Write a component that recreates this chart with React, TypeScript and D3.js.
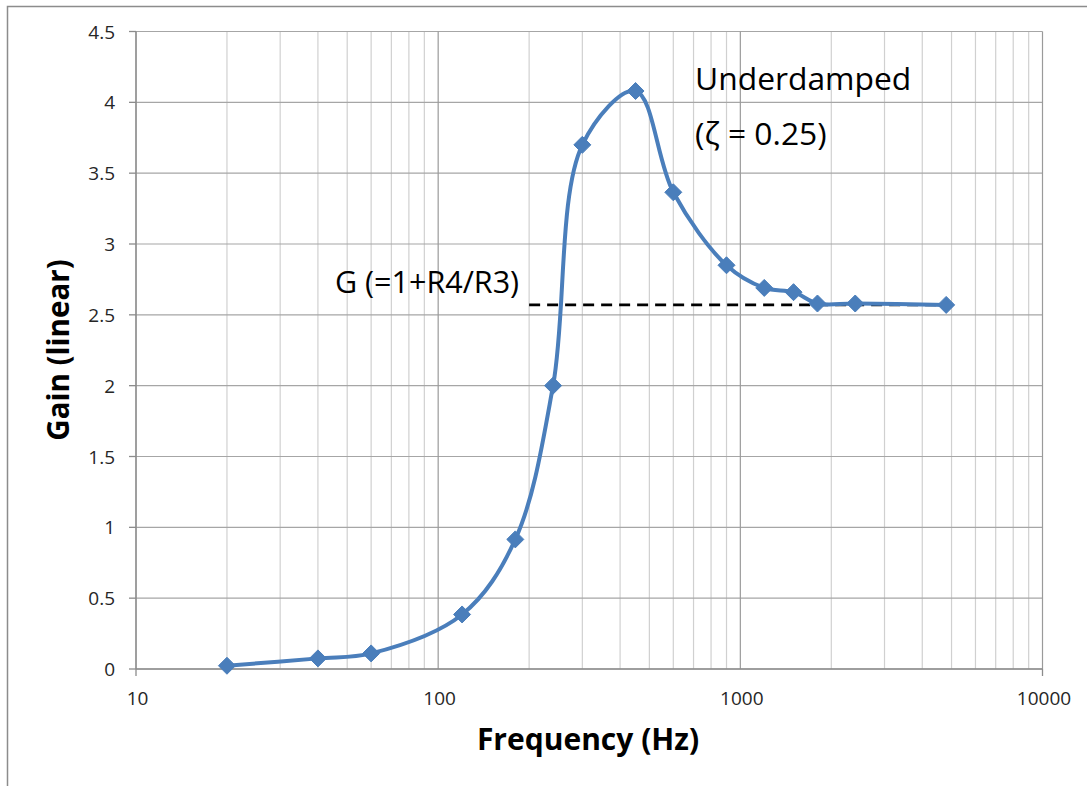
import React from "react";
import * as d3 from "d3";

const freqHz = [20, 40, 60, 120, 180, 240, 300, 450, 600, 900, 1200, 1500, 1800, 2400, 4800];
const gainLinear = [0.023, 0.075, 0.11, 0.385, 0.915, 2.0, 3.7, 4.08, 3.365, 2.85, 2.69, 2.66, 2.58, 2.58, 2.57];
const yTicks = [0, 0.5, 1, 1.5, 2, 2.5, 3, 3.5, 4, 4.5];
const xTickLabels = [10, 100, 1000, 10000];
const refGain = 2.57;
const refRange = [200, 5000];

const W = 1087;
const H = 786;
const L = 136, R = 1042.5, T = 31.5, B = 669;
const FONT = "'Open Sans', Lato, sans-serif";

export default function App() {
  const x = d3.scaleLog().domain([10, 10000]).range([L, R]);
  const y = d3.scaleLinear().domain([0, 4.5]).range([B, T]);

  const minor: number[] = [];
  for (let d = 10; d < 10000; d *= 10) {
    for (let k = 2; k <= 9; k++) minor.push(d * k);
  }
  const pts: [number, number][] = freqHz.map((f, i) => [x(f), y(gainLinear[i])]);
  const line = d3.line().curve(d3.curveCatmullRom.alpha(0.5))(pts) || "";
  const diamond = (cx: number, cy: number, r = 8.5) =>
    `M${cx},${cy - r}L${cx + r},${cy}L${cx},${cy + r}L${cx - r},${cy}Z`;

  return (
    <svg width={W} height={H} style={{ position: "absolute", left: 0, top: 0, display: "block" }}>
      <rect x={0} y={0} width={W} height={H} fill="#fff" />
      <rect x={7.5} y={6.5} width={W + 10} height={H + 10} fill="none" stroke="#8c8c8c" strokeWidth={1.5} />
      {minor.map((m) => (
        <line key={"m" + m} x1={x(m)} x2={x(m)} y1={T} y2={B} stroke="#d0d0d0" strokeWidth={1.2} />
      ))}
      {yTicks.map((t) => (
        <line key={"h" + t} x1={L} x2={R} y1={y(t)} y2={y(t)} stroke="#a6a6a6" strokeWidth={1.2} />
      ))}
      {xTickLabels.map((t) => (
        <line key={"v" + t} x1={x(t)} x2={x(t)} y1={T} y2={B} stroke="#9a9a9a" strokeWidth={1.2} />
      ))}
      <line x1={L} x2={L} y1={T} y2={B + 7} stroke="#8c8c8c" strokeWidth={1.3} />
      <line x1={L} x2={R} y1={B} y2={B} stroke="#8c8c8c" strokeWidth={1.3} />
      <line x1={R} x2={R} y1={B} y2={B + 7} stroke="#8c8c8c" strokeWidth={1.3} />
      {yTicks.map((t) => (
        <g key={"yt" + t}>
          <line x1={L - 7} x2={L} y1={y(t)} y2={y(t)} stroke="#8c8c8c" strokeWidth={1.3} />
          <text x={115} y={y(t) + 7} textAnchor="end" fontFamily={FONT} fontSize={19} fill="#262626">
            {t}
          </text>
        </g>
      ))}
      {xTickLabels.map((t) => (
        <text key={"xt" + t} x={x(t) + 1.5} y={705} textAnchor="middle" fontFamily={FONT} fontSize={19} fill="#262626">
          {t}
        </text>
      ))}
      <line x1={x(refRange[0])} x2={x(refRange[1])} y1={y(refGain)} y2={y(refGain)} stroke="#000" strokeWidth={2.8} strokeDasharray="11,7" />
      <path d={line} fill="none" stroke="#4a7ebb" strokeWidth={4} strokeLinejoin="round" />
      {pts.map(([cx, cy], i) => (
        <path key={"p" + i} d={diamond(cx, cy)} fill="#4a7ebb" stroke="#4a7ebb" strokeWidth={1} />
      ))}
      <text x={335} y={292.5} fontFamily={FONT} fontSize={30.5} fill="#000">G (=1+R4/R3)</text>
      <text x={695} y={90} fontFamily={FONT} fontSize={31.8} fill="#000">Underdamped</text>
      <text x={695} y={145} fontFamily={FONT} fontSize={31.8} fill="#000">(ζ = 0.25)</text>
      <text x={588} y={750} textAnchor="middle" fontFamily={FONT} fontWeight="bold" fontSize={30} fill="#000">
        Frequency (Hz)
      </text>
      <text transform={`translate(69,350) rotate(-90)`} textAnchor="middle" fontFamily={FONT} fontWeight="bold" fontSize={29.5} fill="#000">
        Gain (linear)
      </text>
    </svg>
  );
}
